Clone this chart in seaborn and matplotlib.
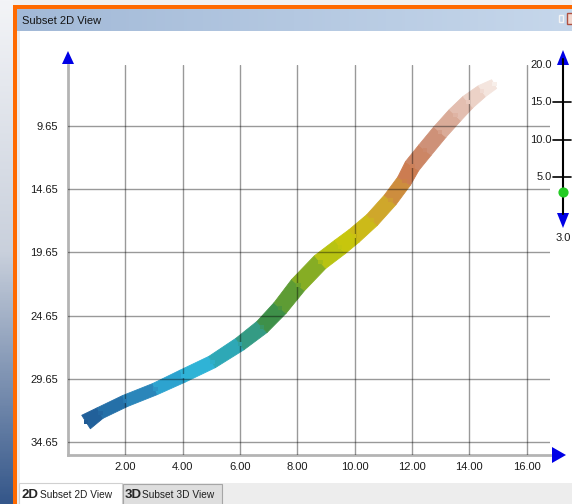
"""Subset 2D View: point cloud coloured by depth, drawn like the viewer window."""

import numpy as np
import matplotlib
matplotlib.use("Agg")
import matplotlib.pyplot as plt
from matplotlib.collections import PolyCollection
from matplotlib.colors import LinearSegmentedColormap, Normalize
from matplotlib.patches import Polygon, Rectangle
import pandas as pd
import seaborn as sns

W, H = 572, 504

# centre line of the point cloud
BAND_X = [0.63, 1.12, 1.99, 3.04, 4.01, 5.03, 6.00, 6.77, 7.40, 8.03, 8.80, 9.49,
          9.98, 10.61, 11.24, 11.73, 12.01, 12.46, 12.98, 13.51, 13.96, 14.45, 14.87]
BAND_Y = [33.07, 32.36, 31.41, 30.46, 29.43, 28.32, 26.90, 25.55, 24.05, 22.23, 20.41,
          19.22, 18.35, 17.09, 15.50, 14.00, 12.81, 11.55, 10.12, 8.78, 7.75, 6.88, 6.33]
BAND_VALUE = [3.0, 3.7, 4.7, 5.9, 7.1, 7.9, 9.0, 10.1, 11.0, 12.0, 13.2, 14.2,
              14.7, 15.4, 16.1, 16.8, 17.3, 17.8, 18.3, 18.8, 19.2, 19.6, 20.0]
# thickness of the cloud across the curve, pixels
BAND_PX = [16, 12, 12, 12, 13, 13, 14, 15, 16, 17, 17, 17, 16, 15, 15, 15, 16, 16,
           16, 16, 15, 13, 10]

X_TICKS = [2.0, 4.0, 6.0, 8.0, 10.0, 12.0, 14.0, 16.0]
Y_TICKS = [9.65, 14.65, 19.65, 24.65, 29.65, 34.65]
SLIDER_TICKS = [20.0, 15.0, 10.0, 5.0]
SLIDER_MIN, SLIDER_MAX = 3.0, 20.0

CMAP = LinearSegmentedColormap.from_list("depth", [
    (0.00, "#1f5a94"), (0.12, "#2a80b6"), (0.25, "#2fb6dd"), (0.35, "#2ea2a6"),
    (0.45, "#3f8f42"), (0.55, "#7aa828"), (0.62, "#b4c214"), (0.68, "#c9c60c"),
    (0.75, "#cfa92a"), (0.82, "#cc7a4c"), (0.88, "#cc8c72"), (0.94, "#e3bdaf"),
    (1.00, "#f8efea")])


def chrome(fig):
    bg = fig.add_axes([0, 0, 1, 1], zorder=-5)
    bg.set_xlim(0, W)
    bg.set_ylim(H, 0)
    bg.axis("off")
    grad = LinearSegmentedColormap.from_list("side", ["#f3f4f7", "#c9d0dc", "#35578a"])
    bg.imshow(np.linspace(0, 1, 200)[:, None], cmap=grad, aspect="auto",
              extent=(0, 13, H, 0))
    bg.add_patch(Rectangle((13, 0), W, 5, color="#f1f1f1", lw=0))
    bg.add_patch(Rectangle((13, 5), W, 4, color="#ff6a00", lw=0))
    bg.add_patch(Rectangle((13, 5), 4, H, color="#ff6a00", lw=0))
    title = LinearSegmentedColormap.from_list("title", ["#a2b9d7", "#c6d7eb"])
    bg.imshow(np.linspace(0, 1, 200)[None, :], cmap=title, aspect="auto",
              extent=(17, W, 31, 9))
    bg.add_patch(Rectangle((17, 31), 3, 452, color="#ececec", lw=0))
    bg.text(22, 20.5, "Subset 2D View", fontsize=8, va="center", color="#151515")
    bg.add_patch(Rectangle((559, 15), 4, 7, fc="none", ec="#f4f4f4", lw=1))
    bg.add_patch(Rectangle((567, 13), 8, 11, fc="#f2d8d0", ec="#b05040", lw=1))
    # tab strip
    bg.add_patch(Rectangle((17, 483), W, 21, color="#ededed", lw=0))
    bg.add_patch(Rectangle((19, 483), 103, 22, fc="white", ec="#d0d0d0", lw=0.8))
    bg.add_patch(Rectangle((123, 484), 99, 21, fc="#dedede", ec="#a6a6a6", lw=0.8))
    bg.text(22, 494.5, "2D", fontsize=9.5, fontweight="bold", va="center")
    bg.text(40, 495, "Subset 2D View", fontsize=7.3, va="center", color="#202020")
    bg.text(125, 495.5, "3D", fontsize=9.5, fontweight="bold", va="center")
    bg.text(142, 495, "Subset 3D View", fontsize=7.3, va="center", color="#202020")
    return bg


def band_polys(ax):
    """quads along the centre line, BAND_PX wide (in screen pixels)"""
    pts = ax.transData.transform(np.column_stack([BAND_X, BAND_Y]))
    d = np.diff(pts, axis=0)
    d /= np.linalg.norm(d, axis=1)[:, None]
    seg_n = np.column_stack([-d[:, 1], d[:, 0]])
    vn = np.vstack([seg_n[:1], seg_n[:-1] + seg_n[1:], seg_n[-1:]])
    vn /= np.linalg.norm(vn, axis=1)[:, None]
    half = np.array(BAND_PX, dtype=float) / 2
    left = ax.transData.inverted().transform(pts + vn * half[:, None])
    right = ax.transData.inverted().transform(pts - vn * half[:, None])
    return [[left[i], left[i + 1], right[i + 1], right[i]] for i in range(len(pts) - 1)]


def main():
    sns.set_style("white")
    plt.rcParams["font.family"] = ["Liberation Sans", "DejaVu Sans"]
    fig = plt.figure(figsize=(W / 100, H / 100), dpi=100)
    fig.patch.set_facecolor("white")
    bg = chrome(fig)

    x0, x1, ytop, ybot = 68, 550, 65, 455
    ax = fig.add_axes([x0 / W, (H - ybot) / H, (x1 - x0) / W, (ybot - ytop) / H])
    ax.set_facecolor("none")
    ax.set_xlim(0, 16.82)
    ax.set_ylim(35.68, 4.82)

    norm = Normalize(SLIDER_MIN, SLIDER_MAX)
    vals = np.array(BAND_VALUE)
    cols = CMAP(norm((vals[:-1] + vals[1:]) / 2))
    pc = PolyCollection(band_polys(ax), facecolors=cols, edgecolors=cols,
                        linewidths=0.6, zorder=2)
    ax.add_collection(pc)

    df = pd.DataFrame({"x": BAND_X, "y": BAND_Y, "value": BAND_VALUE})
    sns.scatterplot(data=df, x="x", y="y", hue="value", palette=CMAP,
                    hue_norm=(SLIDER_MIN, SLIDER_MAX), marker="s", s=12,
                    linewidth=0, legend=False, ax=ax, zorder=3)

    ax.set_xlim(0, 16.82)
    ax.set_ylim(35.68, 4.82)
    ax.set_xticks(X_TICKS)
    ax.set_yticks(Y_TICKS)
    ax.set_xticklabels([f"{t:.2f}" for t in X_TICKS])
    ax.set_yticklabels([f"{t:.2f}" for t in Y_TICKS])
    ax.set_xlabel("")
    ax.set_ylabel("")
    ax.set_axisbelow(False)
    ax.grid(True, color="black", alpha=0.4, lw=1, zorder=4)
    for s in ("top", "right"):
        ax.spines[s].set_visible(False)
    for s in ("left", "bottom"):
        ax.spines[s].set_color("#b4b4b4")
        ax.spines[s].set_linewidth(2)
    ax.tick_params(axis="x", length=0, pad=5, labelsize=8, labelcolor="#1a1a1a")
    ax.tick_params(axis="y", length=4, width=1, color="#8a8a8a", pad=3,
                   labelsize=8, labelcolor="#1a1a1a")

    # axis arrows
    bg.add_patch(Polygon([(68, 51), (62, 64), (74, 64)], color="#0000e6", lw=0))
    bg.add_patch(Polygon([(566, 455), (552, 447), (552, 463)], color="#0000e6", lw=0))

    # depth slider on the right
    sax = fig.add_axes([553 / W, (H - 192) / H, 20 / W, (192 - 65) / H])
    sax.set_xlim(-1, 1)
    sax.set_ylim(SLIDER_MIN, SLIDER_MAX)
    sax.axis("off")
    px = (SLIDER_MAX - SLIDER_MIN) / (192 - 65)   # value per pixel
    sax.plot([0, 0], [SLIDER_MAX + 6 * px, SLIDER_MIN - 22 * px], color="black",
             lw=1.5, clip_on=False)
    for v in SLIDER_TICKS[1:]:
        sax.plot([-1, 0.8], [v, v], color="black", lw=1.2, clip_on=False)
    for v in SLIDER_TICKS:
        sax.text(-1.1, v, f"{v:.1f}", ha="right", va="center", fontsize=8,
                 color="#1a1a1a")
    sax.add_patch(Polygon([(0, SLIDER_MAX + 15 * px), (-0.6, SLIDER_MAX),
                           (0.6, SLIDER_MAX)], color="#0000e6", lw=0, clip_on=False))
    sax.add_patch(Polygon([(0, SLIDER_MIN - 36 * px), (-0.6, SLIDER_MIN - 21 * px),
                           (0.6, SLIDER_MIN - 21 * px)], color="#0000e6", lw=0,
                          clip_on=False))
    sax.text(0, SLIDER_MIN - 46 * px, f"{SLIDER_MIN:.1f}", ha="center", va="center",
             fontsize=8, color="#1a1a1a")
    sax.scatter([0], [SLIDER_MIN], s=40, color="#22cc22", zorder=5, clip_on=False)

    fig.savefig("out.png", dpi=100)
    plt.close(fig)


if __name__ == "__main__":
    main()
